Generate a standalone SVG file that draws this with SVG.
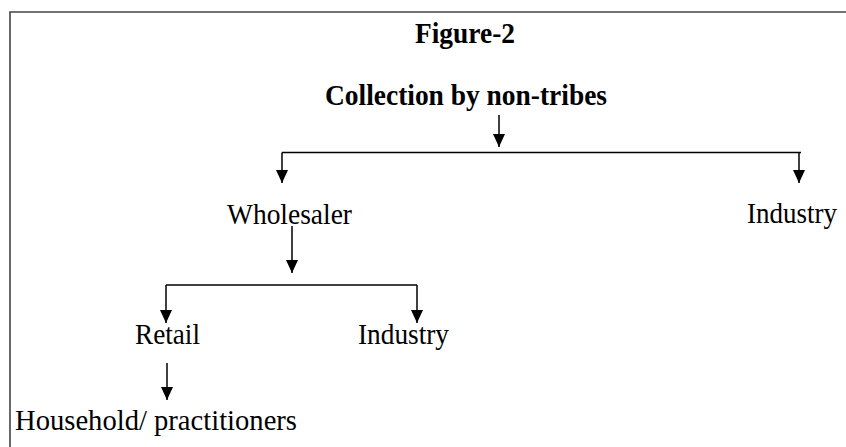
<svg xmlns="http://www.w3.org/2000/svg" width="846" height="447" viewBox="0 0 846 447">
<defs>
<marker id="ah" viewBox="0 0 13 12" refX="13" refY="6" markerWidth="13" markerHeight="12" markerUnits="userSpaceOnUse" orient="auto">
<path d="M0,0 L13,6 L0,12 z" fill="#000"/>
</marker>
<style>
.t{font-family:"Liberation Serif","Times New Roman",serif;font-size:30px;fill:#000;text-anchor:middle}
.b{font-weight:bold}
.c{fill:none;stroke:#000;stroke-width:1.5}
.a{marker-end:url(#ah)}
.frame{fill:none;stroke:#444;stroke-width:1.6}
</style>
</defs>
<rect width="846" height="447" fill="#fff"/>
<path class="frame" d="M10,448 V12 H847"/>
<g id="title"><text class="t b" x="465" y="43" textLength="100" lengthAdjust="spacingAndGlyphs">Figure-2</text></g>
<g id="collection"><text class="t b" x="466" y="105" textLength="282" lengthAdjust="spacingAndGlyphs">Collection by non-tribes</text></g>
<g id="wholesaler"><text class="t" x="289.5" y="224" textLength="125" lengthAdjust="spacingAndGlyphs">Wholesaler</text></g>
<g id="industry1"><text class="t" x="792" y="223" textLength="90" lengthAdjust="spacingAndGlyphs">Industry</text></g>
<g id="retail"><text class="t" x="167.5" y="344" textLength="65" lengthAdjust="spacingAndGlyphs">Retail</text></g>
<g id="industry2"><text class="t" x="403.5" y="344" textLength="91" lengthAdjust="spacingAndGlyphs">Industry</text></g>
<g id="household"><text class="t" x="156" y="430" textLength="282" lengthAdjust="spacingAndGlyphs">Household/ practitioners</text></g>
<g id="connectors">
<path class="c a" d="M499,115 V147"/>
<path class="c" d="M282,152.5 H801"/>
<path class="c a" d="M282,152.5 V183"/>
<path class="c a" d="M799,152.5 V183"/>
<path class="c a" d="M292,226 V273"/>
<path class="c" d="M166,285 H417"/>
<path class="c a" d="M166,285 V323"/>
<path class="c a" d="M417,285 V323"/>
<path class="c a" d="M167,363 V400"/>
</g>
</svg>
